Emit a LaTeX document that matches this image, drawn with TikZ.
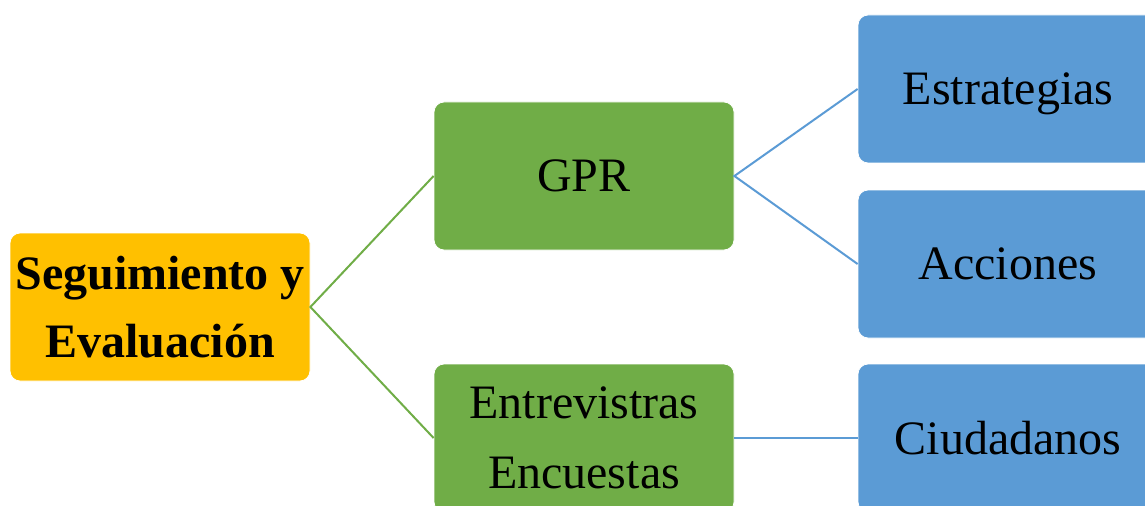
\documentclass[tikz,border=0pt]{standalone}
\usepackage{fontspec}
\setmainfont{Liberation Serif}
\definecolor{sgorange}{HTML}{FFC000}
\definecolor{sggreen}{HTML}{70AD47}
\definecolor{sgblue}{HTML}{5B9BD5}
\tikzset{
  box/.style={rectangle, rounded corners=7.5pt, minimum width=225pt, minimum height=111pt,
    inner sep=0pt, align=center, text=black, draw=white, line width=0.6pt,
    font=\fontsize{36}{52}\selectfont},
  orangebox/.style={box, fill=sgorange, font=\fontsize{36}{51}\selectfont\bfseries},
  greenbox/.style={box, fill=sggreen},
  bluebox/.style={box, fill=sgblue},
  greenline/.style={draw=sggreen, line width=1.5pt},
  blueline/.style={draw=sgblue, line width=1.5pt}
}
\begin{document}
\begin{tikzpicture}[x=0.75pt,y=-0.75pt]
\useasboundingbox (0,0) rectangle (1145,506);
\clip (0,0) rectangle (1145,506);
\node[orangebox] (seg) at (160,307) {Seguimiento y\\Evaluación};
\node[greenbox] (gpr) at (584,176) {GPR};
\node[greenbox] (ent) at (584,438) {Entrevistras\\Encuestas};
\node[bluebox, text depth=0pt] (est) at (1008,89) {Estrategias};
\node[bluebox] (acc) at (1008,264) {Acciones};
\node[bluebox] (ciu) at (1008,438) {Ciudadanos};
\draw[greenline] (gpr.west) -- (seg.east) -- (ent.west);
\draw[blueline] (est.west) -- (gpr.east) -- (acc.west);
\draw[blueline] (ent.east) -- (ciu.west);
\end{tikzpicture}
\end{document}
